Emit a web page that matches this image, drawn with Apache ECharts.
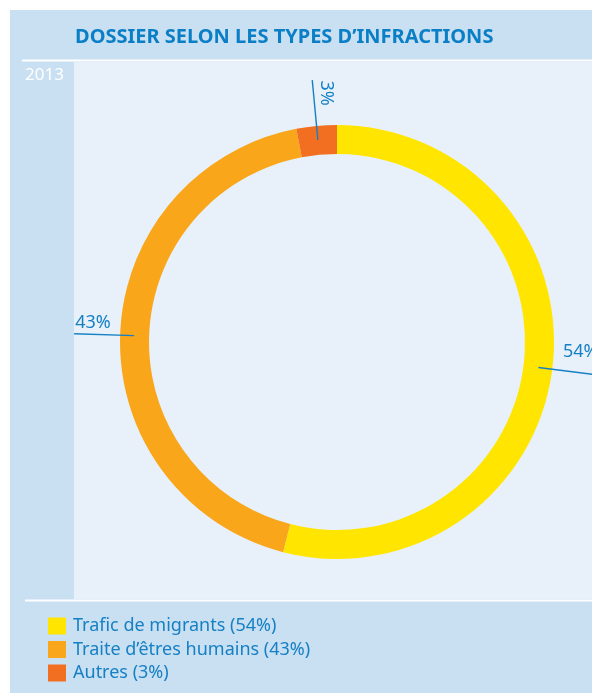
<!DOCTYPE html>
<html>
<head>
<meta charset="utf-8">
<script src="https://cdn.jsdelivr.net/npm/echarts@6/dist/echarts.min.js"></script>
<style>
html,body{margin:0;padding:0;background:#fff;}
#chart{width:592px;height:693px;}
</style>
</head>
<body>
<div id="chart"></div>
<script>
const title = "DOSSIER SELON LES TYPES D\u2019INFRACTIONS";
const yearLabel = "2013";
const categories = ["Trafic de migrants", "Traite d\u2019\u00eatres humains", "Autres"];
const values = [54, 43, 3];
const colors = ["#ffe500", "#f9a61b", "#f26f21"];

const blue = "#1580c4";
const font = "'Noto Sans', 'Open Sans', sans-serif";

const pieData = categories.map((c, i) => ({ name: c, value: values[i], itemStyle: { color: colors[i] } }));
const labelData = categories.map((c, i) => ({ name: c, value: values[i] }));

const chart = echarts.init(document.getElementById('chart'), null, { renderer: 'canvas' });

const common = {
  type: 'pie',
  center: [337, 342],
  startAngle: 90,
  clockwise: true,
  silent: true,
  avoidLabelOverlap: false
};

chart.setOption({
  animation: false,
  backgroundColor: '#ffffff',
  graphic: [
    { type: 'rect', z: -10, shape: { x: 10, y: 10, width: 582, height: 683 }, style: { fill: '#c9dff2' } },
    { type: 'rect', z: -9, shape: { x: 74, y: 62, width: 518, height: 537 }, style: { fill: '#e8f1f9' } },
    { type: 'line', z: -8, shape: { x1: 22, y1: 60.5, x2: 592, y2: 60.5 }, style: { stroke: '#ffffff', lineWidth: 2 } },
    { type: 'line', z: -8, shape: { x1: 25, y1: 600.5, x2: 592, y2: 600.5 }, style: { stroke: '#ffffff', lineWidth: 2 } },
    { type: 'text', z: 5, left: 75, top: 27, style: { text: title, fill: '#0a7fc6', font: "bold 20px " + font } },
    { type: 'text', z: 5, left: 25, top: 67, style: { text: yearLabel, fill: '#ffffff', font: "17px " + font } }
  ],
  legend: {
    orient: 'vertical',
    left: 48,
    top: 617,
    padding: 0,
    icon: 'rect',
    itemWidth: 18,
    itemHeight: 17,
    itemGap: 5.5,
    selectedMode: false,
    data: categories,
    formatter: function (name) {
      const i = categories.indexOf(name);
      return name + ' (' + values[i] + '%)';
    },
    textStyle: { color: blue, fontSize: 18, lineHeight: 18, fontFamily: font, padding: [0, 0, 0, 2] }
  },
  series: [
    Object.assign({}, common, {
      radius: [188, 217],
      label: { show: false },
      labelLine: { show: false },
      data: pieData
    }),
    Object.assign({}, common, {
      z: 5,
      radius: [0, 203],
      itemStyle: { color: 'rgba(0,0,0,0)' },
      label: { show: true, position: 'outside', formatter: ' ', fontSize: 2, color: 'rgba(0,0,0,0)' },
      labelLine: { show: true, length: 60, length2: 0, lineStyle: { color: blue, width: 1.4 } },
      data: labelData
    }),
    Object.assign({}, common, {
      z: 6,
      radius: [0, 203],
      itemStyle: { color: 'rgba(0,0,0,0)' },
      label: {
        show: true,
        position: 'outside',
        formatter: '{c}%',
        color: blue,
        fontSize: 18,
        fontFamily: font
      },
      labelLine: { show: true, length: 60, length2: 0, lineStyle: { color: 'rgba(0,0,0,0)', width: 0 } },
      labelLayout: function (p) {
        const pts = p.labelLinePoints;
        if (!pts) return {};
        const e = pts[pts.length - 1];
        if (p.dataIndex === 0) {
          return { x: e[0] - 35, y: e[1] - 23, align: 'left', verticalAlign: 'middle' };
        } else if (p.dataIndex === 1) {
          return { x: e[0] + 1, y: e[1] - 11, align: 'left', verticalAlign: 'middle' };
        } else {
          return { x: e[0] + 14, y: e[1] + 13, align: 'center', verticalAlign: 'middle', rotate: -90 };
        }
      },
      data: labelData
    })
  ]
});
</script>
</body>
</html>
